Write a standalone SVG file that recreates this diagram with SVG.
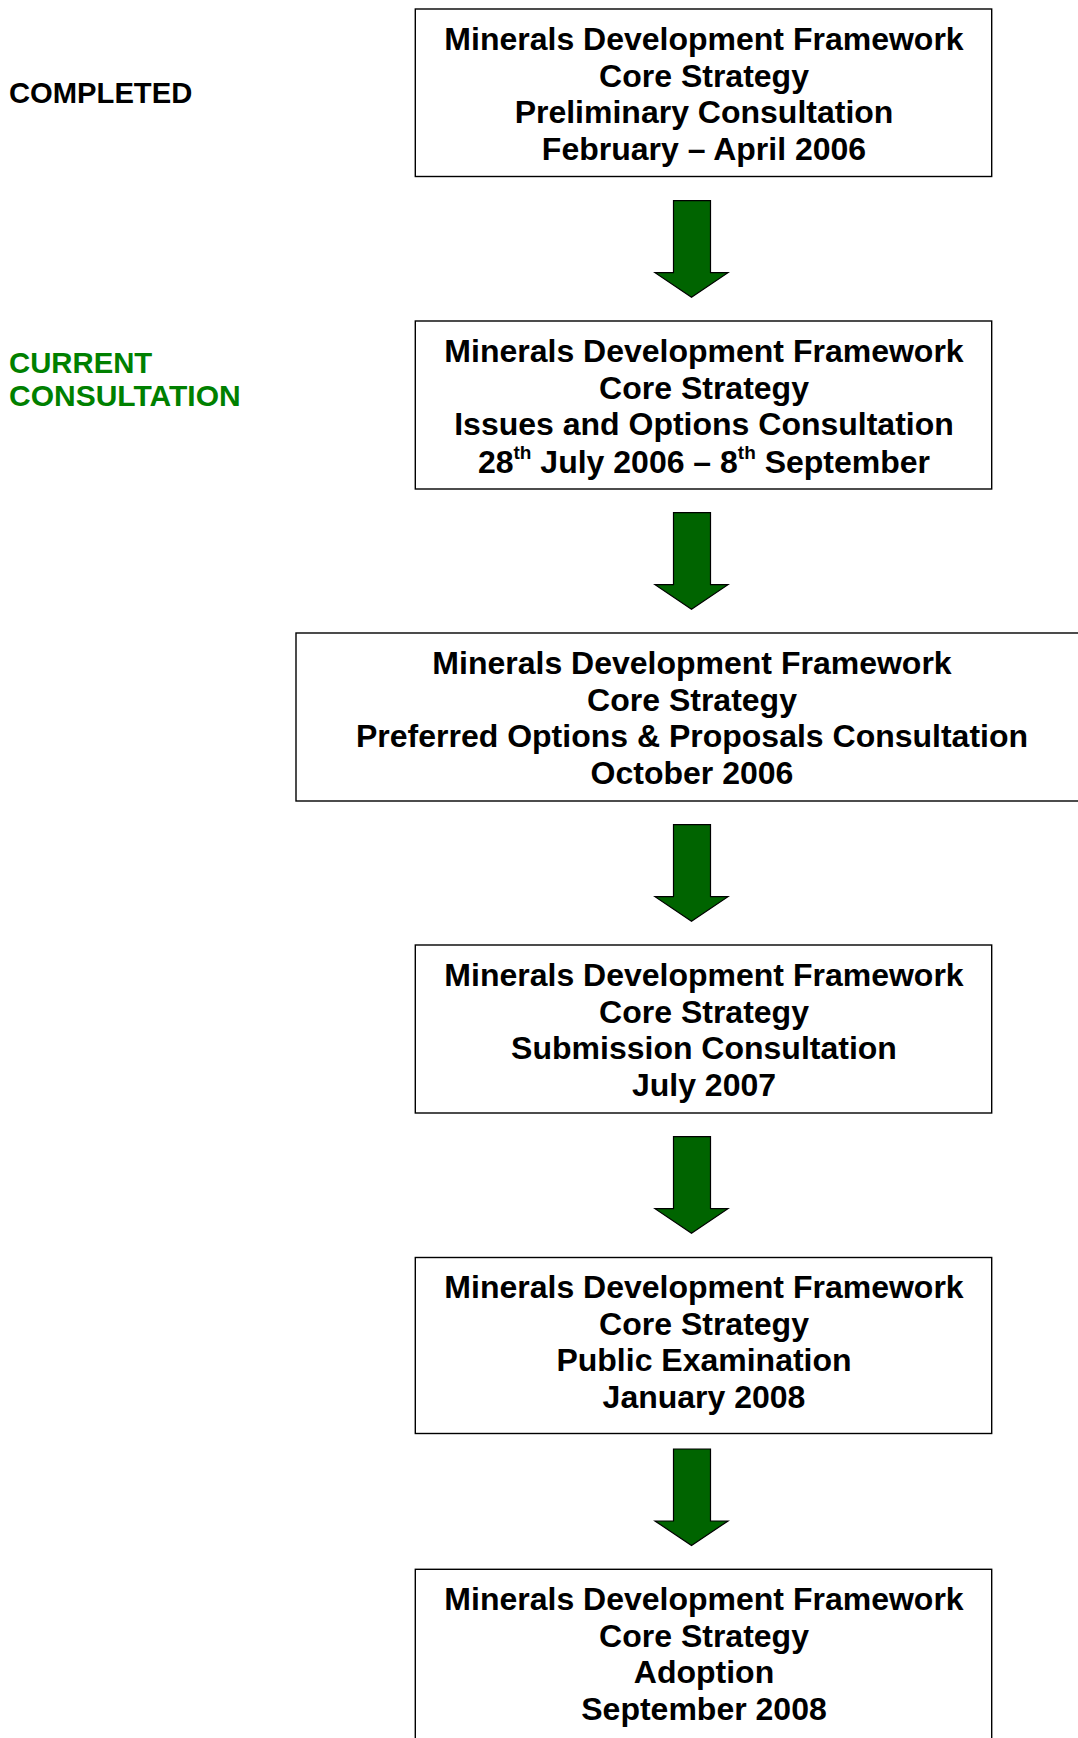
<svg xmlns="http://www.w3.org/2000/svg" width="1078" height="1738" viewBox="0 0 1078 1738">
<defs>
<style>
.box{fill:#fff;stroke:#000;stroke-width:1.4}
.t{font-family:"Liberation Sans",Arial,sans-serif;font-weight:bold;font-size:32px;text-anchor:middle;fill:#000}
.lbl{font-family:"Liberation Sans",Arial,sans-serif;font-weight:bold;font-size:30px}
.arr{fill:#006400;stroke:#000;stroke-width:1.2;stroke-linejoin:miter}
</style>
<path id="arrow" class="arr" d="M673.5,0 L710.5,0 L710.5,72 L728,72 L691.5,96.5 L655,72 L673.5,72 Z"/>
</defs>
<rect width="1078" height="1738" fill="#fff"/>
<g id="labels">
<text class="lbl" x="9" y="103.3" fill="#000" style="font-size:29.2px">COMPLETED</text>
<text class="lbl" x="9" y="373.3" fill="#008000" style="font-size:29.3px">CURRENT</text>
<text class="lbl" x="9" y="406.3" fill="#008000">CONSULTATION</text>
</g>
<g id="connectors">
<use href="#arrow" y="200.7"/>
<use href="#arrow" y="512.7"/>
<use href="#arrow" y="824.7"/>
<use href="#arrow" y="1136.7"/>
<use href="#arrow" y="1449"/>
</g>
<g id="node1">
<rect class="box" x="415.3" y="9" width="576.4" height="167.5"/>
<text class="t" x="704" y="50">Minerals Development Framework</text>
<text class="t" x="704" y="86.7">Core Strategy</text>
<text class="t" x="704" y="123.4">Preliminary Consultation</text>
<text class="t" x="704" y="160.1">February – April 2006</text>
</g>
<g id="node2">
<rect class="box" x="415.3" y="321" width="576.4" height="168"/>
<text class="t" x="704" y="362">Minerals Development Framework</text>
<text class="t" x="704" y="398.7">Core Strategy</text>
<text class="t" x="704" y="435.4">Issues and Options Consultation</text>
<text class="t" x="704" y="472.5">28<tspan font-size="19" dy="-14">th</tspan><tspan dy="14"> July 2006 – 8</tspan><tspan font-size="19" dy="-14">th</tspan><tspan dy="14"> September</tspan></text>
</g>
<g id="node3">
<rect class="box" x="296" y="633" width="792" height="168"/>
<text class="t" x="692" y="674">Minerals Development Framework</text>
<text class="t" x="692" y="710.7">Core Strategy</text>
<text class="t" x="692" y="747.4">Preferred Options &amp; Proposals Consultation</text>
<text class="t" x="692" y="784.1">October 2006</text>
</g>
<g id="node4">
<rect class="box" x="415.3" y="945" width="576.4" height="168"/>
<text class="t" x="704" y="986">Minerals Development Framework</text>
<text class="t" x="704" y="1022.7">Core Strategy</text>
<text class="t" x="704" y="1059.4">Submission Consultation</text>
<text class="t" x="704" y="1096.1">July 2007</text>
</g>
<g id="node5">
<rect class="box" x="415.3" y="1257.5" width="576.4" height="176"/>
<text class="t" x="704" y="1298">Minerals Development Framework</text>
<text class="t" x="704" y="1334.7">Core Strategy</text>
<text class="t" x="704" y="1371.4">Public Examination</text>
<text class="t" x="704" y="1408.1">January 2008</text>
</g>
<g id="node6">
<rect class="box" x="415.3" y="1569.3" width="576.4" height="190"/>
<text class="t" x="704" y="1610">Minerals Development Framework</text>
<text class="t" x="704" y="1646.7">Core Strategy</text>
<text class="t" x="704" y="1683.4">Adoption</text>
<text class="t" x="704" y="1720.1">September 2008</text>
</g>
</svg>
